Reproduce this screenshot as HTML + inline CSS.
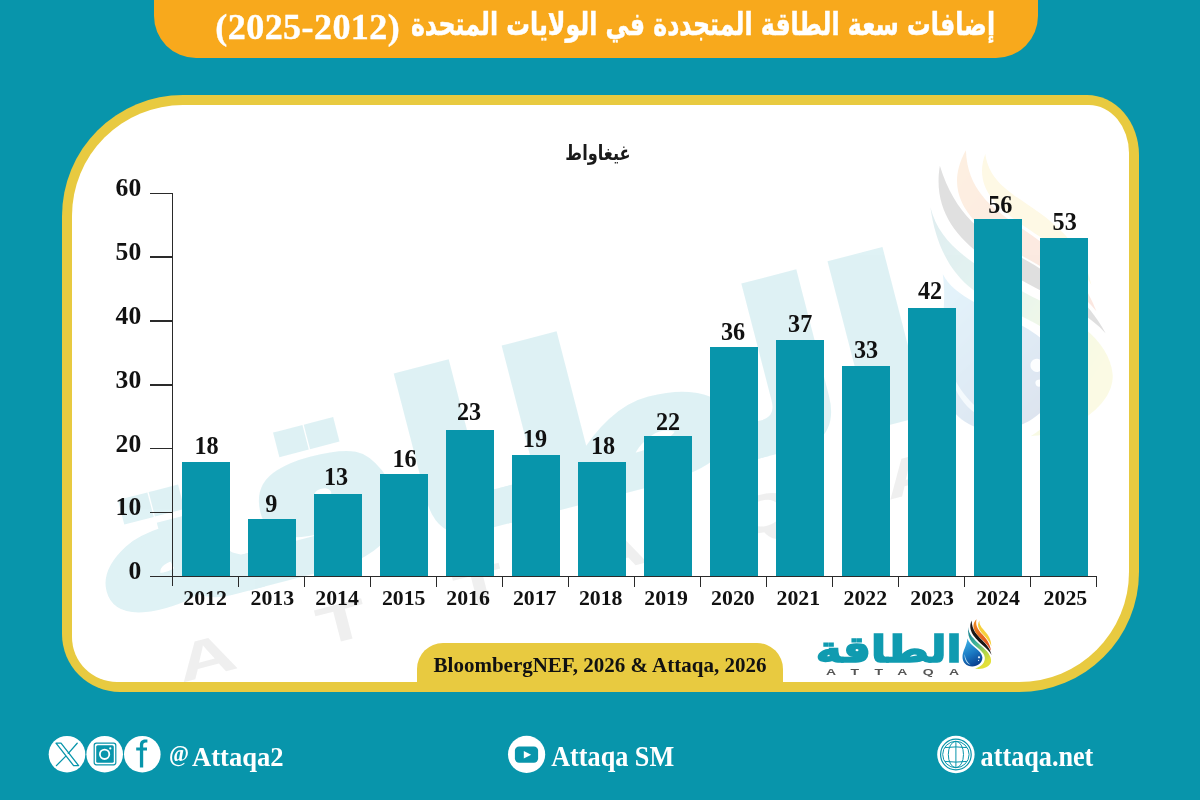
<!DOCTYPE html>
<html lang="ar">
<head>
<meta charset="utf-8">
<title>إضافات سعة الطاقة المتجددة في الولايات المتحدة</title>
<style>
*{margin:0;padding:0;box-sizing:border-box}
html,body{width:1200px;height:800px;overflow:hidden;background:#0895ab}
body{position:relative;font-family:"Liberation Serif","DejaVu Sans",serif;font-weight:bold;color:#111}
#stage{position:absolute;left:0;top:0;width:1200px;height:800px;overflow:hidden;background:#0895ab}
.abs{position:absolute}
/* title */
#titlebar{position:absolute;left:153.8px;top:-10px;width:883.8px;height:67.5px;background:#f8a91c;border-radius:0 0 42px 42px}
#title{position:absolute;left:154px;top:0;width:884px;height:57px;color:#fff;white-space:nowrap}
#title .ar{position:absolute;font-family:"DejaVu Sans",sans-serif;font-weight:bold;font-size:31.4px;line-height:40px;top:4.3px;right:43px;direction:rtl;transform:scaleX(.7537);transform-origin:100% 50%;-webkit-text-stroke:.5px #fff}
#title .yr{position:absolute;font-family:"Liberation Serif",serif;font-weight:bold;font-size:36px;letter-spacing:.45px;line-height:40px;top:7px;left:61.3px;direction:ltr;unicode-bidi:isolate;-webkit-text-stroke:.4px #fff}
/* card */
#card{position:absolute;left:62px;top:95px;width:1077px;height:597px;background:#e8ca40;border-radius:121px 52px 120px 58px / 121px 60px 120px 58px;overflow:hidden}
#cardin{position:absolute;left:-62px;top:-95px;width:1200px;height:800px}
#white{position:absolute;left:72px;top:105px;width:1057px;height:577px;background:#fff;border-radius:111px 40px 110px 45px / 111px 48px 110px 45px}
#wm{position:absolute;left:0;top:0;width:1200px;height:800px;transform-origin:955px 633px;transform:translate(-95px,-383px) rotate(-14.5deg) scale(5.93);opacity:.135;pointer-events:none}
/* chart */
.bar{position:absolute;width:48px;background:#0895ab}
.val{position:absolute;width:66px;text-align:center;font-size:24.2px;line-height:24px}
.yl{position:absolute;left:90px;width:51.2px;text-align:right;font-size:25.6px;line-height:24px}
.xl{position:absolute;width:66px;text-align:center;font-size:21.8px;line-height:24px;top:586.4px;margin-left:-0.4px}
.tk{position:absolute;background:#2a2a2a}
#unit{position:absolute;left:497.8px;top:135.1px;width:200px;text-align:center;font-family:"DejaVu Sans",sans-serif;font-weight:bold;font-size:20.5px;line-height:36px;direction:rtl;transform:scaleX(.79);color:#1a1a1a}
#src{position:absolute;left:417px;top:643px;width:366px;height:49px;background:#e8ca40;border-radius:26px 26px 0 0;text-align:center;font-size:21px;line-height:24px;padding-top:10.2px;white-space:nowrap}
.logo{position:absolute;left:810px;top:612px;width:190px;height:72px}
.logo .lar{position:absolute;right:38.8px;top:15.3px;font-family:"DejaVu Sans",sans-serif;font-weight:bold;font-size:36.5px;line-height:46px;color:#109bb0;direction:rtl;white-space:nowrap;-webkit-text-stroke:1.6px #109bb0;transform:scaleX(1.2);transform-origin:100% 50%}
.logo .len{position:absolute;left:16.3px;top:53.8px;font-family:"Liberation Sans",sans-serif;font-weight:bold;font-size:9px;line-height:12px;letter-spacing:9.95px;color:#555;white-space:nowrap;transform:scaleX(1.55);transform-origin:0 50%}
#wm .len{color:#8a8a8a}
/* footer */
.ft{position:absolute;color:#fff;font-size:26px;line-height:30px;white-space:nowrap}
.at{display:inline-block;width:23px;font-size:21.5px;position:relative;top:-5px}
.ic{position:absolute;width:37px;height:37px;border-radius:50%;background:#fff}
</style>
</head>
<body>
<div id="stage">
<div id="titlebar"></div>
<div id="title"><span class="ar">إضافات سعة الطاقة المتجددة في الولايات المتحدة</span><span class="yr">(2025-2012)</span></div>
<div id="card"><div id="cardin">
<div id="white"></div>
<div id="wm">
<div class="logo"><span class="lar">الطاقة</span><span class="len">ATTAQA</span></div>
<svg class="abs" style="left:950.3px;top:611.7px" width="60" height="70" viewBox="950 610 60 70">
<path d="M968.3 627 C968.2 634 973.5 638.8 981 645.8 C986.5 650.500 992 656 991 662 C990 667 982 670 975 668.600 C981.500 666.500 985.300 662.500 984.800 657.500 C984.300 651.500 976 647.500 971.800 642.300 C968.600 638.300 967.600 633 968.300 627 Z" fill="url(#fg2)"/>
<path d="M967.500 638.400 C969 645.500 982.400 650 982.400 657.500 C982.400 663 977.500 666.500 972.200 666.500 C966.600 666.500 962.500 662.500 962.500 657 C962.500 651 966.600 646 967.500 638.400 Z" fill="url(#fg1)"/>
<path d="M971.600 620.600 C967 631 975.500 638.500 982.500 645 C986.500 648.500 989.800 651.500 991.600 655 C990 648.500 986.500 644.500 982 640 C976.500 634.500 972 630 971.600 620.600 Z" fill="#1b1717"/>
<path d="M976.500 619.200 C969.500 626.500 976 634 983 640.500 C986.500 644 989.500 647.500 991 651 C990.300 644 986.500 639 982.500 634.500 C978.500 630 975 626 976.500 619.200 Z" fill="url(#fg3)"/>
<path d="M979.500 620.600 C975.500 626.500 980.500 631.500 985 636.500 C988 640 990.500 643 991.300 646.500 C991.500 640 988.500 635.500 985 631.500 C982 628 979 625.200 979.500 620.600 Z" fill="#f6cf3c"/>
<path d="M964.600 654 C964 659.500 966.800 663.800 970.500 664.800 C967.200 662.300 965.300 658.800 964.600 654 Z" fill="#cfeefc" opacity=".85"/>
<circle cx="979" cy="657.300" r="1.100" fill="#eaf8ff"/>
<circle cx="978.600" cy="660.300" r="0.600" fill="#eaf8ff"/>
</svg>
</div>

<div class="yl" style="top:559.3px">0</div>
<div class="tk" style="left:149.8px;top:575.95px;width:23px;height:1.3px"></div>
<div class="yl" style="top:495.4px">10</div>
<div class="tk" style="left:149.8px;top:512.05px;width:23px;height:1.3px"></div>
<div class="yl" style="top:431.5px">20</div>
<div class="tk" style="left:149.8px;top:448.15px;width:23px;height:1.3px"></div>
<div class="yl" style="top:367.6px">30</div>
<div class="tk" style="left:149.8px;top:384.25px;width:23px;height:1.3px"></div>
<div class="yl" style="top:303.7px">40</div>
<div class="tk" style="left:149.8px;top:320.35px;width:23px;height:1.3px"></div>
<div class="yl" style="top:239.8px">50</div>
<div class="tk" style="left:149.8px;top:256.45px;width:23px;height:1.3px"></div>
<div class="yl" style="top:175.9px">60</div>
<div class="tk" style="left:149.8px;top:192.55px;width:23px;height:1.3px"></div>
<div class="tk" style="left:171.95px;top:192.55px;width:1.3px;height:393.4px"></div>
<div class="tk" style="left:149.8px;top:575.95px;width:947.45px;height:1.3px"></div>
<div class="bar" style="left:182.15px;top:461.6px;height:114.6px;width:47.7px"></div>
<div class="val" style="left:173.5px;top:434.1px">18</div>
<div class="xl" style="left:172.5px">2012</div>
<div class="tk" style="left:237.95px;top:576.6px;width:1.3px;height:10.2px"></div>
<div class="bar" style="left:248.15px;top:519.1px;height:57.1px;width:47.7px"></div>
<div class="val" style="left:238.4px;top:491.9px">9</div>
<div class="xl" style="left:239.7px">2013</div>
<div class="tk" style="left:303.95px;top:576.6px;width:1.3px;height:10.2px"></div>
<div class="bar" style="left:314.15px;top:493.5px;height:82.7px;width:47.7px"></div>
<div class="val" style="left:303.0px;top:464.9px">13</div>
<div class="xl" style="left:304.5px">2014</div>
<div class="tk" style="left:369.95px;top:576.6px;width:1.3px;height:10.2px"></div>
<div class="bar" style="left:380.15px;top:474.4px;height:101.8px;width:47.7px"></div>
<div class="val" style="left:371.6px;top:446.8px">16</div>
<div class="xl" style="left:371.1px">2015</div>
<div class="tk" style="left:435.95px;top:576.6px;width:1.3px;height:10.2px"></div>
<div class="bar" style="left:446.15px;top:429.6px;height:146.6px;width:47.7px"></div>
<div class="val" style="left:436.1px;top:400.0px">23</div>
<div class="xl" style="left:435.5px">2016</div>
<div class="tk" style="left:501.95px;top:576.6px;width:1.3px;height:10.2px"></div>
<div class="bar" style="left:512.15px;top:455.2px;height:121.0px;width:47.7px"></div>
<div class="val" style="left:501.9px;top:427.1px">19</div>
<div class="xl" style="left:502.1px">2017</div>
<div class="tk" style="left:567.95px;top:576.6px;width:1.3px;height:10.2px"></div>
<div class="bar" style="left:578.15px;top:461.6px;height:114.6px;width:47.7px"></div>
<div class="val" style="left:570.1px;top:433.7px">18</div>
<div class="xl" style="left:568.1px">2018</div>
<div class="tk" style="left:633.95px;top:576.6px;width:1.3px;height:10.2px"></div>
<div class="bar" style="left:644.15px;top:436.0px;height:140.2px;width:47.7px"></div>
<div class="val" style="left:635.0px;top:409.9px">22</div>
<div class="xl" style="left:633.5px">2019</div>
<div class="tk" style="left:699.95px;top:576.6px;width:1.3px;height:10.2px"></div>
<div class="bar" style="left:710.15px;top:346.6px;height:229.6px;width:47.7px"></div>
<div class="val" style="left:700.0px;top:319.5px">36</div>
<div class="xl" style="left:700.3px">2020</div>
<div class="tk" style="left:765.95px;top:576.6px;width:1.3px;height:10.2px"></div>
<div class="bar" style="left:776.15px;top:340.2px;height:236.0px;width:47.7px"></div>
<div class="val" style="left:767.2px;top:312.1px">37</div>
<div class="xl" style="left:765.7px">2021</div>
<div class="tk" style="left:831.95px;top:576.6px;width:1.3px;height:10.2px"></div>
<div class="bar" style="left:842.15px;top:365.7px;height:210.5px;width:47.7px"></div>
<div class="val" style="left:833.0px;top:338.3px">33</div>
<div class="xl" style="left:832.7px">2022</div>
<div class="tk" style="left:897.95px;top:576.6px;width:1.3px;height:10.2px"></div>
<div class="bar" style="left:908.15px;top:308.2px;height:268.0px;width:47.7px"></div>
<div class="val" style="left:897.0px;top:278.9px">42</div>
<div class="xl" style="left:899.5px">2023</div>
<div class="tk" style="left:963.95px;top:576.6px;width:1.3px;height:10.2px"></div>
<div class="bar" style="left:974.15px;top:218.8px;height:357.4px;width:47.7px"></div>
<div class="val" style="left:967.3px;top:192.9px">56</div>
<div class="xl" style="left:965.4px">2024</div>
<div class="tk" style="left:1029.95px;top:576.6px;width:1.3px;height:10.2px"></div>
<div class="bar" style="left:1040.15px;top:237.9px;height:338.3px;width:47.7px"></div>
<div class="val" style="left:1031.7px;top:210.1px">53</div>
<div class="xl" style="left:1032.8px">2025</div>
<div class="tk" style="left:1095.95px;top:576.6px;width:1.3px;height:10.2px"></div>
<div id="unit">غيغاواط</div>
<div class="logo"><span class="lar">الطاقة</span><span class="len">ATTAQA</span></div>
<svg class="abs" style="left:950px;top:610px" width="60" height="70" viewBox="950 610 60 70">
<defs>
<linearGradient id="fg1" x1="0.2" y1="0" x2="0.6" y2="1"><stop offset="0" stop-color="#3fb4e6"/><stop offset="0.55" stop-color="#1a78c2"/><stop offset="1" stop-color="#0a3f8e"/></linearGradient>
<linearGradient id="fg2" x1="0" y1="0" x2="0.5" y2="1"><stop offset="0" stop-color="#14788f"/><stop offset="0.45" stop-color="#3fb39a"/><stop offset="0.75" stop-color="#a9d34a"/><stop offset="1" stop-color="#e2e03a"/></linearGradient>
<linearGradient id="fg3" x1="0" y1="0" x2="0.4" y2="1"><stop offset="0" stop-color="#ef8d22"/><stop offset="1" stop-color="#e2521f"/></linearGradient>
</defs>
<path d="M968.3 627 C968.2 634 973.5 638.8 981 645.8 C986.5 650.500 992 656 991 662 C990 667 982 670 975 668.600 C981.500 666.500 985.300 662.500 984.800 657.500 C984.300 651.500 976 647.500 971.800 642.300 C968.600 638.300 967.600 633 968.300 627 Z" fill="url(#fg2)"/>
<path d="M967.500 638.400 C969 645.500 982.400 650 982.400 657.500 C982.400 663 977.500 666.500 972.200 666.500 C966.600 666.500 962.500 662.500 962.500 657 C962.500 651 966.600 646 967.500 638.400 Z" fill="url(#fg1)"/>
<path d="M971.600 620.600 C967 631 975.500 638.500 982.500 645 C986.500 648.500 989.800 651.500 991.600 655 C990 648.500 986.500 644.500 982 640 C976.500 634.500 972 630 971.600 620.600 Z" fill="#1b1717"/>
<path d="M976.500 619.200 C969.500 626.500 976 634 983 640.500 C986.500 644 989.500 647.500 991 651 C990.300 644 986.500 639 982.500 634.500 C978.500 630 975 626 976.500 619.200 Z" fill="url(#fg3)"/>
<path d="M979.500 620.600 C975.500 626.500 980.500 631.500 985 636.500 C988 640 990.500 643 991.300 646.500 C991.500 640 988.500 635.500 985 631.500 C982 628 979 625.200 979.500 620.600 Z" fill="#f6cf3c"/>
<path d="M964.600 654 C964 659.500 966.800 663.800 970.500 664.800 C967.200 662.300 965.300 658.800 964.600 654 Z" fill="#cfeefc" opacity=".85"/>
<circle cx="979" cy="657.300" r="1.100" fill="#eaf8ff"/>
<circle cx="978.600" cy="660.300" r="0.600" fill="#eaf8ff"/>
</svg>

</div></div>
<div id="src">BloombergNEF, 2026 &amp; Attaqa, 2026</div>
<svg class="abs" style="left:40px;top:725px" width="1120" height="60" viewBox="40 725 1120 60">
<g fill="#fff">
<circle cx="67" cy="754.2" r="18.3"/>
<circle cx="104.7" cy="754.2" r="18.3"/>
<circle cx="142.3" cy="754.2" r="18.3"/>
<circle cx="526.6" cy="754.4" r="18.6"/>
<circle cx="955.9" cy="754.5" r="18.7"/>
</g>
<!-- X -->
<g fill="none" stroke="#0895ab" stroke-width="1.3" stroke-linejoin="round" stroke-linecap="round">
<path d="M56 743.2 L61 743.2 L78.6 765.6 L73.6 765.6 Z"/>
<path d="M77.2 743.2 L68.3 753.4 M65.6 756.4 L56.4 765.6"/>
</g>
<!-- instagram -->
<rect x="94.2" y="743.2" width="21.6" height="21.6" rx="2.2" fill="none" stroke="#0895ab" stroke-width="1.2"/>
<rect x="96.2" y="745.2" width="17.6" height="17.6" rx="1.6" fill="#0895ab"/>
<circle cx="104.6" cy="754.3" r="4.7" fill="none" stroke="#fff" stroke-width="1.8"/>
<circle cx="110.3" cy="748.4" r="1.1" fill="#fff"/>
<!-- facebook f -->
<path d="M147.4 739.6 C142.2 738.6 139.9 741.2 139.9 744.8 L139.9 747.6 L136.2 747.6 L136.2 750.4 L139.9 750.4 L139.9 767.4 L143.2 767.4 L143.2 750.4 L147 750.4 L147 747.6 L143.2 747.6 L143.2 745.2 C143.2 742.8 144.6 742 147.4 742.6 Z" fill="#0895ab"/>
<!-- youtube -->
<rect x="514.9" y="746.4" width="23.2" height="16.4" rx="4.2" fill="#0895ab"/>
<path d="M523.8 751 L531.2 754.7 L523.8 758.4 Z" fill="#fff"/>
<!-- globe -->
<g fill="none" stroke="#0895ab" stroke-width="1">
<circle cx="955.9" cy="754.5" r="15.3" stroke-width="1.2"/>
<circle cx="955.9" cy="754.5" r="13.2"/>
<ellipse cx="955.9" cy="754.5" rx="7.6" ry="13.2"/>
<path d="M955.9 741.3 V767.7 M944.9 747.6 Q955.9 746.2 966.9 747.6 M944.9 761.4 Q955.9 762.8 966.9 761.4"/>
</g>
</svg>
<div class="ft" style="left:169px;top:741.8px;font-size:26.6px;transform:scaleY(1.06);transform-origin:0 24px"><span class="at">@</span>Attaqa2</div>
<div class="ft" style="left:551.2px;top:742.5px;font-size:26.2px;transform:scaleY(1.09);transform-origin:0 23.5px">Attaqa SM</div>
<div class="ft" style="left:980.6px;top:742px;font-size:26.2px;transform:scaleY(1.1);transform-origin:0 9px">attaqa.net</div>

</div>
</body>
</html>
